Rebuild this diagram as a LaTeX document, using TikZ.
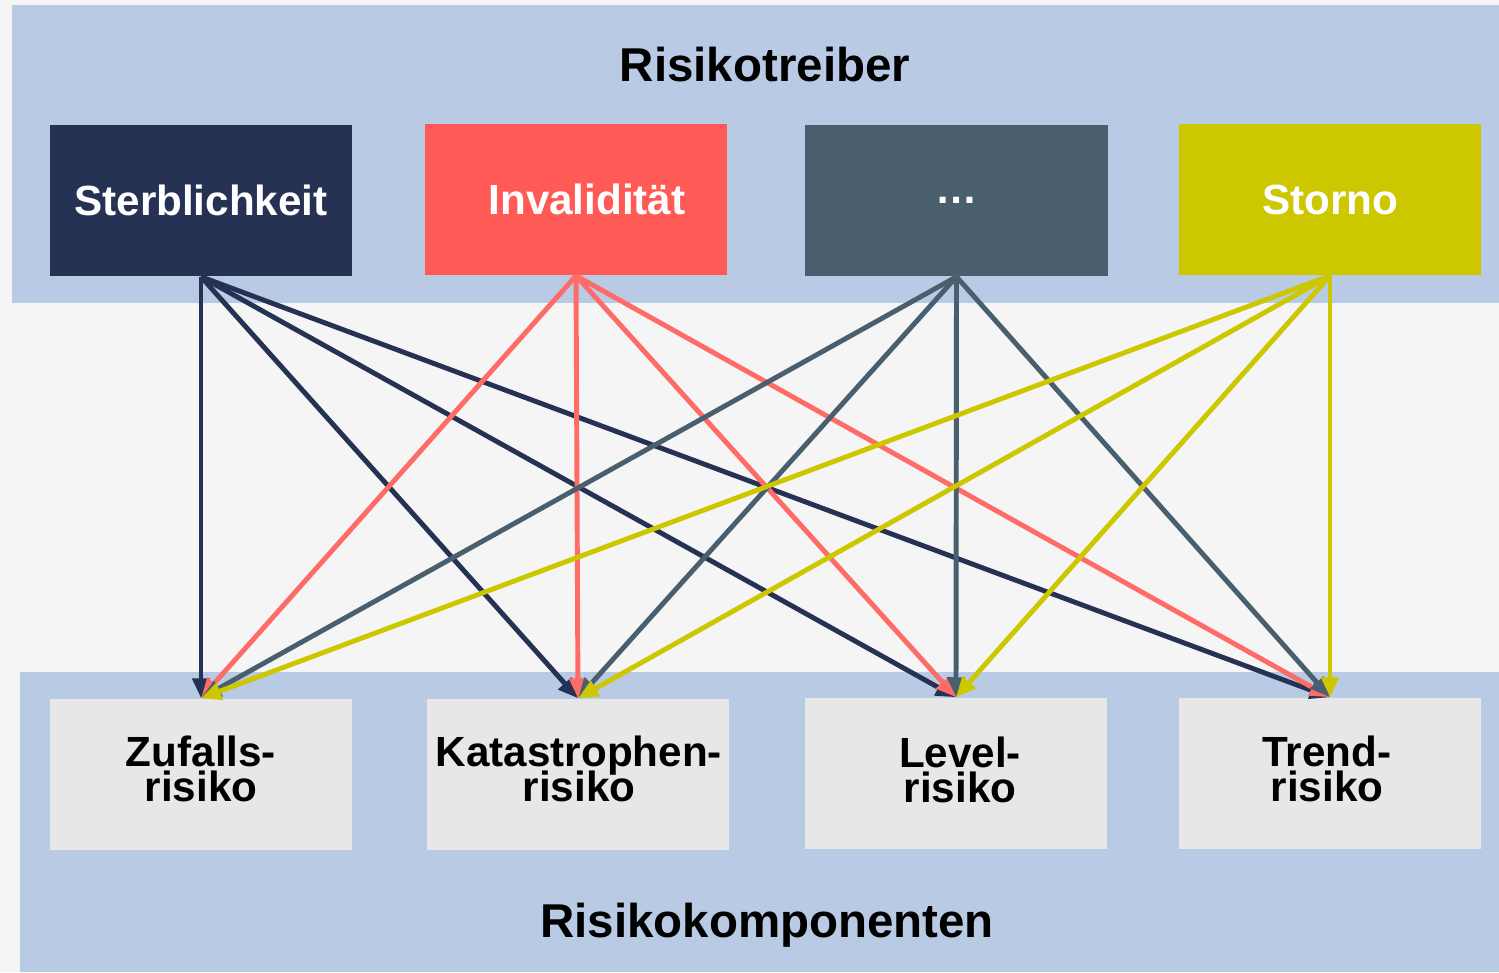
\documentclass[tikz,border=0pt]{standalone}
\usepackage{fontspec}
\setmainfont{Liberation Sans}
\usetikzlibrary{arrows.meta}
\definecolor{bgc}{HTML}{F5F5F5}
\definecolor{band}{HTML}{B9CBE4}
\definecolor{navy}{HTML}{253254}
\definecolor{redc}{HTML}{FF5A55}
\definecolor{redl}{HTML}{FF6B66}
\definecolor{slate}{HTML}{4A5F6E}
\definecolor{olive}{HTML}{CDC700}
\definecolor{lgray}{HTML}{E7E7E7}
\lineskiplimit=-20pt
\tikzset{
  topbox/.style={rectangle, inner sep=0pt, minimum width=3.02cm, minimum height=1.51cm, text=white, font=\fontsize{12}{14}\selectfont\bfseries},
  botbox/.style={rectangle, inner sep=0pt, minimum width=3.02cm, minimum height=1.51cm, fill=lgray},
  botlab/.style={inner sep=0pt, text=black, align=center, font=\fontsize{12}{10}\selectfont\bfseries},
  title/.style={font=\fontsize{13.5}{16}\selectfont\bfseries, text=black, inner sep=0pt},
  arr/.style={line width=1.4pt, -{Triangle[length=0.2cm, width=0.17cm]}}
}
\begin{document}
\begin{tikzpicture}[x=0.01cm, y=-0.01cm]
\useasboundingbox (0,0) rectangle (1499,972);
\fill[bgc] (0,0) rectangle (1499,972);
\fill[band] (12,5) rectangle (1499,303);
\fill[band] (20,672) rectangle (1499,972);
\node[title] (t1) at (765,65) {Risikotreiber};
\node[title] (t2) at (767,925) {Risikokomponenten};
% top boxes
\node[topbox, fill=navy] (s) at (201,200.5) {Sterblichkeit};
\node[topbox, fill=redc] (i) at (576,199.5) {\hspace*{0.22cm}Invalidität};
\node[topbox, fill=slate] (d) at (956.5,200.5) {…};
\node[topbox, fill=olive] (o) at (1330,199.5) {Storno};
% bottom boxes
\node[botbox] (z) at (201,774.5) {};
\node[botbox] (k) at (578,774.5) {};
\node[botbox] (l) at (956,773.5) {};
\node[botbox] (tr) at (1330,773.5) {};
\node[botlab] (zt) at (201,769) {Zufalls-\\risiko};
\node[botlab] (kt) at (579,769) {Katastrophen-\\risiko};
\node[botlab] (lt) at (960,770) {Level-\\risiko};
\node[botlab] (trt) at (1327,769) {Trend-\\risiko};
% arrows
\foreach \t in {z,k,l,tr} \draw[arr, navy] (s.south) -- (\t.north);
\foreach \t in {z,k,l,tr} \draw[arr, redl] (i.south) -- (\t.north);
\foreach \t in {z,k,l,tr} \draw[arr, slate] (d.south) -- (\t.north);
\foreach \t in {z,k,l,tr} \draw[arr, olive] (o.south) -- (\t.north);
\end{tikzpicture}
\end{document}
